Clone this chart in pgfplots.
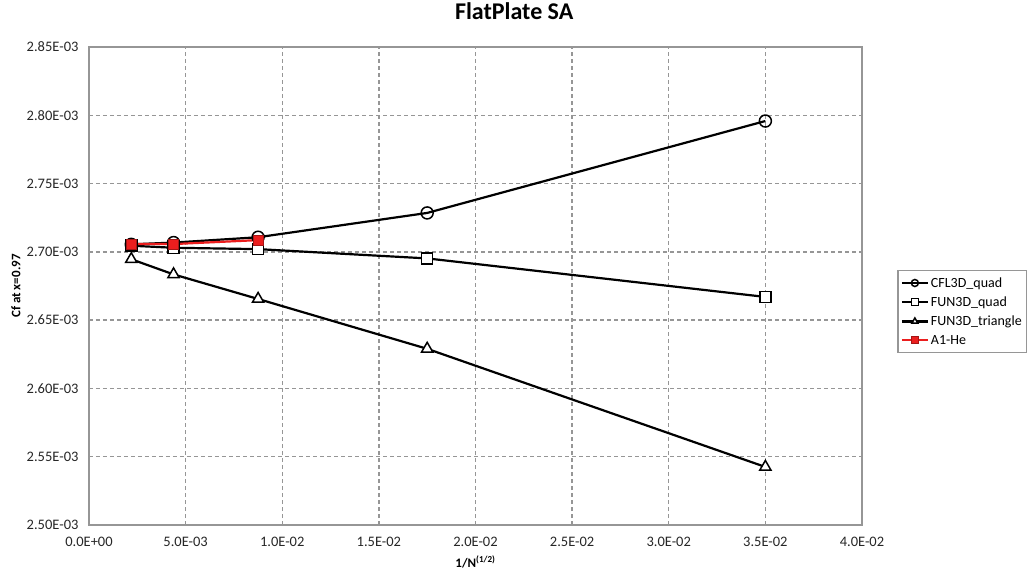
\documentclass[border=0pt]{standalone}
\usepackage{fontspec}
\setmainfont{Carlito}
\usepackage{pgfplots}
\pgfplotsset{compat=1.18}
\definecolor{axred}{RGB}{235,30,30}
\definecolor{frame}{RGB}{150,150,150}
\begin{document}
\begin{tikzpicture}[x=1pt,y=1pt]
\begin{axis}[
    at={(0,0)}, anchor=south west,
    scale only axis, width=773pt, height=478pt,
    xmin=0, xmax=0.04, ymin=2.50e-3, ymax=2.85e-3,
    scaled ticks=false,
    xtick={0,0.005,0.01,0.015,0.02,0.025,0.03,0.035,0.04},
    xticklabels={0.0E+00,5.0E-03,1.0E-02,1.5E-02,2.0E-02,2.5E-02,3.0E-02,3.5E-02,4.0E-02},
    ytick={2.50e-3,2.55e-3,2.60e-3,2.65e-3,2.70e-3,2.75e-3,2.80e-3,2.85e-3},
    yticklabels={2.50E-03,2.55E-03,2.60E-03,2.65E-03,2.70E-03,2.75E-03,2.80E-03,2.85E-03},
    major tick length=0pt,
    grid=major,
    major grid style={frame, line width=1.3pt, dash pattern=on 4pt off 3pt},
    axis line style={frame, line width=1.5pt},
    tick label style={font=\fontsize{14.5}{14.5}\selectfont, text=black!85},
    xticklabel style={yshift=-9pt},
    yticklabel style={xshift=-7pt},
    title={FlatPlate SA},
    title style={at={(axis description cs:0.55,1)}, anchor=center, yshift=30pt,
        font=\fontsize{24}{24}\bfseries\selectfont},
    xlabel={1/N\textsuperscript{(1/2)}},
    xlabel style={at={(axis description cs:0.5,0)}, anchor=center, yshift=-37pt,
        font=\fontsize{13}{13}\bfseries\selectfont},
    ylabel={Cf at x=0.97},
    ylabel style={at={(axis description cs:-0.0944,0.5)}, anchor=center,
        font=\fontsize{13}{13}\bfseries\selectfont},
    legend cell align=left,
    legend style={at={(axis description cs:1.0453,0.4467)}, anchor=west,
        draw=frame, line width=1.5pt, font=\fontsize{14}{14}\selectfont,
        inner xsep=3pt, inner ysep=5pt, row sep=4pt},
    legend image code/.code={
        \draw[mark repeat=2,mark phase=2,#1,mark size=3.5pt]
            plot coordinates {(0pt,0pt)(13pt,0pt)(26pt,0pt)};},
]
\addplot[black, line width=2.2pt, mark=o, mark size=6pt,
    mark options={fill=white, line width=1.5pt}] coordinates {
    (0.0021875,2.7055e-3)(0.004375,2.7068e-3)(0.00875,2.7107e-3)
    (0.0175,2.7285e-3)(0.035,2.7958e-3)
};
\addlegendentry{CFL3D\_quad}
\addplot[black, line width=2.2pt, mark=square*, mark size=5.5pt,
    mark options={fill=white, line width=1.5pt}] coordinates {
    (0.0021875,2.7045e-3)(0.004375,2.7030e-3)(0.00875,2.7020e-3)
    (0.0175,2.6952e-3)(0.035,2.6670e-3)
};
\addlegendentry{FUN3D\_quad}
\addplot[black, line width=2.2pt, mark=triangle*, mark size=6.5pt,
    mark options={fill=white, line width=1.5pt}] coordinates {
    (0.0021875,2.6946e-3)(0.004375,2.6835e-3)(0.00875,2.6655e-3)
    (0.0175,2.6290e-3)(0.035,2.5425e-3)
};
\addlegendentry{FUN3D\_triangle}
\addplot[axred, line width=2.2pt, mark=square*, mark size=5pt,
    mark options={fill=axred, draw=axred!70!black, line width=1pt}] coordinates {
    (0.0021875,2.7057e-3)(0.004375,2.7057e-3)(0.00875,2.7086e-3)
};
\addlegendentry{A1-He}
\end{axis}
\pgfresetboundingbox
\useasboundingbox (-89pt,-48pt) rectangle (939pt,525pt);
\end{tikzpicture}
\end{document}
